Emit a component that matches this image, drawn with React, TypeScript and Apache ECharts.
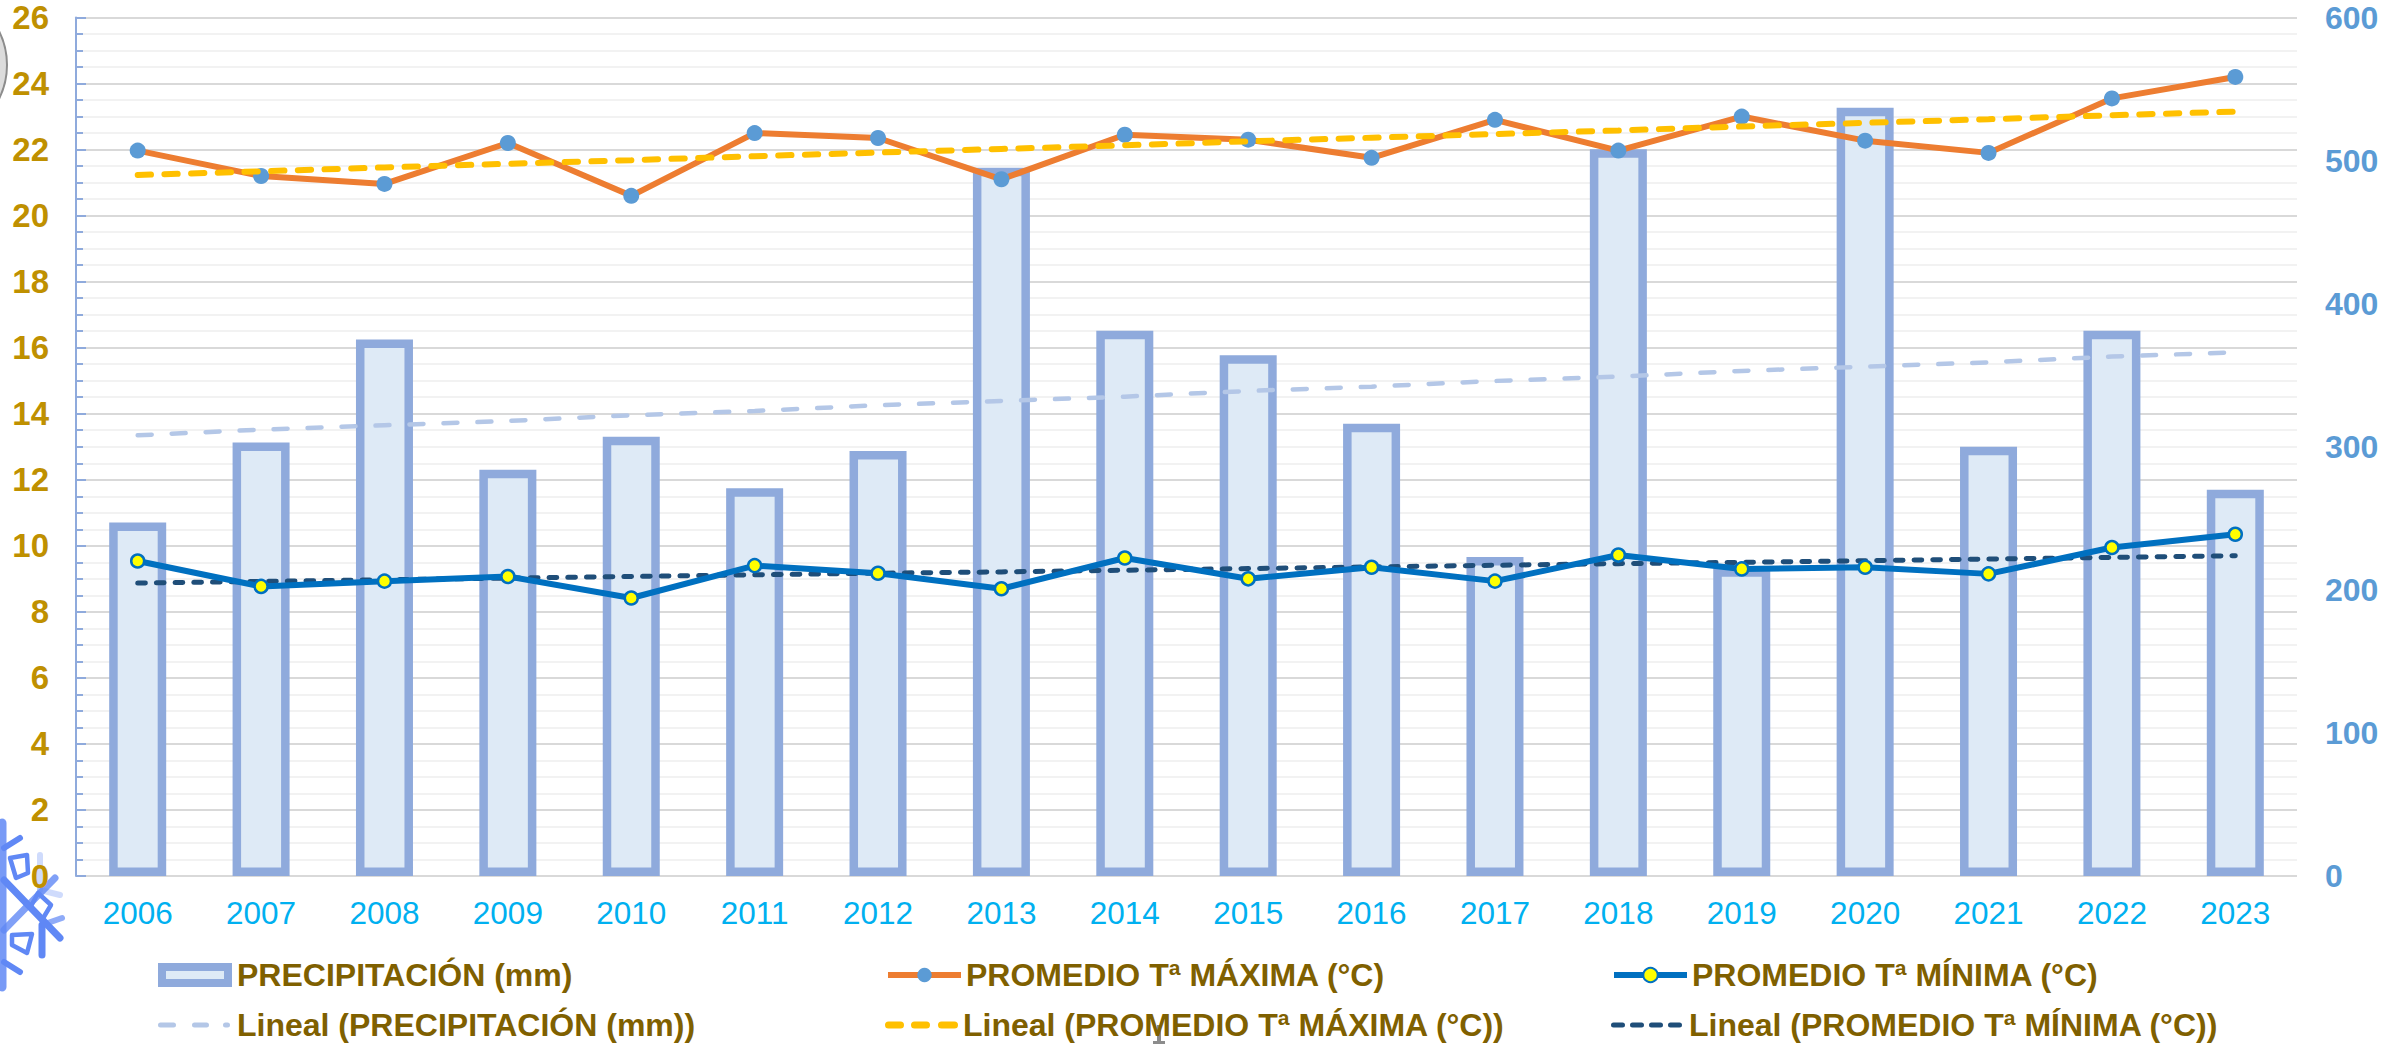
import React, { useEffect, useRef } from "react";
import * as echarts from "echarts";

const years = ["2006","2007","2008","2009","2010","2011","2012","2013","2014","2015","2016","2017","2018","2019","2020","2021","2022","2023"];
const precipitation = [247,303,375,284,307,271,297,495,381,364,316,223,508,215,537,300,381,270];
const tempMax = [21.97,21.2,20.96,22.2,20.6,22.5,22.35,21.1,22.45,22.3,21.75,22.9,21.97,23.0,22.27,21.9,23.55,24.2];
const tempMin = [9.54,8.77,8.93,9.07,8.42,9.4,9.17,8.7,9.63,9.0,9.35,8.93,9.72,9.3,9.35,9.15,9.95,10.35];
const trendPrecip = [308,312,315,318,322,325,329,332,335,339,342,346,349,353,356,359,363,366];
const trendMax = [21.23,21.34,21.46,21.57,21.68,21.8,21.91,22.02,22.13,22.25,22.36,22.47,22.58,22.7,22.81,22.92,23.04,23.15];
const trendMin = [8.87,8.92,8.97,9.02,9.07,9.12,9.17,9.21,9.26,9.31,9.36,9.41,9.46,9.5,9.55,9.6,9.65,9.7];

const N_PRECIP = "PRECIPITACIÓN (mm)";
const N_MAX = "PROMEDIO Tª MÁXIMA (°C)";
const N_MIN = "PROMEDIO Tª MÍNIMA (°C)";
const N_TP = "Lineal (PRECIPITACIÓN (mm))";
const N_TMAX = "Lineal (PROMEDIO Tª MÁXIMA (°C))";
const N_TMIN = "Lineal (PROMEDIO Tª MÍNIMA (°C))";

const FONT = "Liberation Sans";

function capsule(x0: number, x1: number, h: number) {
  const r = h / 2;
  return `M${x0 + r} 0H${x1 - r}A${r} ${r} 0 0 1 ${x1 - r} ${h}H${x0 + r}A${r} ${r} 0 0 1 ${x0 + r} 0Z`;
}
const ICON_TP = "path://" + capsule(0, 18, 5) + capsule(34, 51, 5) + capsule(65, 72, 5);
const ICON_TMAX = "path://" + capsule(0, 19, 7) + capsule(26, 45, 7) + capsule(53, 73, 7);
const ICON_TMIN = "path://" + capsule(0, 14, 5) + capsule(19, 33, 5) + capsule(38, 52, 5) + capsule(57, 71, 5);

function legend(name: string, left: number, top: number, extra: any = {}, pad = 0) {
  return {
    data: [name], left, top, padding: 0, itemWidth: 73, itemHeight: 18, itemGap: 0,
    textStyle: { color: "#7F6000", fontSize: 32, fontWeight: "bold", fontFamily: FONT, padding: [0, 0, 0, pad] },
    selectedMode: false,
    ...extra,
  };
}

const FLAKE_BLUE = "#6088F5";
function flakeLine(points: number[][], width: number, opacity = 1) {
  return {
    type: "polyline", silent: true, z: 0,
    shape: { points },
    style: { stroke: FLAKE_BLUE, lineWidth: width, fill: "none", opacity, lineCap: "round", lineJoin: "round" },
  };
}

export default function App() {
  const ref = useRef<HTMLDivElement>(null);
  useEffect(() => {
    const chart = echarts.init(ref.current!, undefined, { renderer: "svg" });
    chart.setOption({
      animation: false,
      backgroundColor: "#fff",
      grid: { left: 76, right: 100, top: 17.5, bottom: 169, containLabel: false },
      graphic: [
        {
          type: "circle", silent: true, z: 0,
          shape: { cx: -69, cy: 65, r: 76 },
          style: { fill: "#DCDCDC", stroke: "#8C8C8C", lineWidth: 2 },
        },
        flakeLine([[2, 823], [2, 987]], 9, 0.85),
        flakeLine([[4, 848], [20, 838]], 6),
        flakeLine([[4, 962], [20, 972]], 6),
        flakeLine([[4, 880], [60, 938]], 7),
        flakeLine([[42, 925], [42, 955]], 7),
        flakeLine([[42, 925], [62, 918]], 6, 0.7),
        flakeLine([[4, 930], [55, 878]], 7, 0.8),
        flakeLine([[40, 890], [40, 855]], 6, 0.3),
        flakeLine([[40, 890], [60, 895]], 6, 0.3),
        flakeLine([[38, 893], [51, 905], [42, 920], [30, 908], [38, 893]], 4.5),
        flakeLine([[10, 858], [27, 855], [28, 873], [16, 878], [10, 858]], 4.5),
        flakeLine([[12, 935], [32, 934], [27, 953], [12, 945], [12, 935]], 4.5),
        {
          type: "rect", silent: true, z: 0,
          shape: { x: 1157, y: 1025, width: 4, height: 17 },
          style: { fill: "#8C8C8C" },
        },
        {
          type: "rect", silent: true, z: 0,
          shape: { x: 1153, y: 1041, width: 12, height: 3 },
          style: { fill: "#8C8C8C" },
        },
      ],
      legend: [
        legend(N_PRECIP, 158, 959, {
          itemWidth: 66, itemHeight: 16, icon: "rect",
          itemStyle: { color: "#DEEAF6", borderColor: "#8FAADC", borderWidth: 8 },
        }, 4),
        legend(N_MAX, 885, 959, { lineStyle: { width: 6 } }),
        legend(N_MIN, 1611, 959, { lineStyle: { width: 6 } }),
        legend(N_TP, 158, 1009, { icon: ICON_TP, itemWidth: 72, itemHeight: 5 }, 2),
        legend(N_TMAX, 885, 1009, { icon: ICON_TMAX, itemWidth: 73, itemHeight: 7 }),
        legend(N_TMIN, 1611, 1009, { icon: ICON_TMIN, itemWidth: 71, itemHeight: 5 }, 2),
      ],
      xAxis: {
        type: "category", data: years,
        axisLine: { show: false }, axisTick: { show: false },
        axisLabel: { color: "#00B0F0", fontSize: 31.5, fontFamily: FONT, margin: 21 },
      },
      yAxis: [
        {
          type: "value", min: 0, max: 26, interval: 2,
          axisLine: { show: true, lineStyle: { color: "#8FAADC", width: 2 } },
          axisTick: { show: true, inside: true, length: 10, lineStyle: { color: "#8FAADC", width: 2 } },
          minorTick: { show: true, splitNumber: 4, length: 7, lineStyle: { color: "#8FAADC", width: 2 } },
          splitLine: { show: true, lineStyle: { color: "#D9D9D9", width: 2 } },
          minorSplitLine: { show: true, lineStyle: { color: "#F2F2F2", width: 2 } },
          axisLabel: { color: "#BF9000", fontSize: 33, fontWeight: "bold", fontFamily: FONT, margin: 27 },
        },
        {
          type: "value", min: 0, max: 600, interval: 100, position: "right",
          axisLine: { show: false }, axisTick: { show: false }, splitLine: { show: false },
          axisLabel: { color: "#5B9BD5", fontSize: 32, fontWeight: "bold", fontFamily: FONT, margin: 28 },
        },
      ],
      series: [
        {
          name: N_PRECIP, type: "bar", yAxisIndex: 1, data: precipitation, barWidth: 57,
          itemStyle: { color: "#DEEAF6", borderColor: "#8FAADC", borderWidth: 8.5 }, z: 2,
        },
        {
          name: N_TP, type: "line", yAxisIndex: 1, data: trendPrecip, symbol: "none", z: 3,
          lineStyle: { color: "#B4C7E7", width: 4.5, type: [14, 20], cap: "round" },
          itemStyle: { color: "#B4C7E7" },
        },
        {
          name: N_MAX, type: "line", yAxisIndex: 0, data: tempMax, symbol: "circle", symbolSize: 16, z: 5,
          lineStyle: { color: "#ED7D31", width: 6 }, itemStyle: { color: "#5B9BD5" },
        },
        {
          name: N_TMAX, type: "line", yAxisIndex: 0, data: trendMax, symbol: "none", z: 6,
          lineStyle: { color: "#FFC000", width: 6, type: [13.3, 13.4], cap: "round" },
          itemStyle: { color: "#FFC000" },
        },
        {
          name: N_MIN, type: "line", yAxisIndex: 0, data: tempMin, symbol: "circle", symbolSize: 13, z: 7,
          lineStyle: { color: "#0070C0", width: 6 },
          itemStyle: { color: "#FFFF00", borderColor: "#0070C0", borderWidth: 2.5 },
        },
        {
          name: N_TMIN, type: "line", yAxisIndex: 0, data: trendMin, symbol: "none", z: 6,
          lineStyle: { color: "#1F4E79", width: 5, type: [7.7, 11], cap: "round" },
          itemStyle: { color: "#1F4E79" },
        },
      ],
    });
    return () => chart.dispose();
  }, []);
  return <div ref={ref} style={{ position: "absolute", left: 0, top: 0, width: 2397, height: 1045 }} />;
}
